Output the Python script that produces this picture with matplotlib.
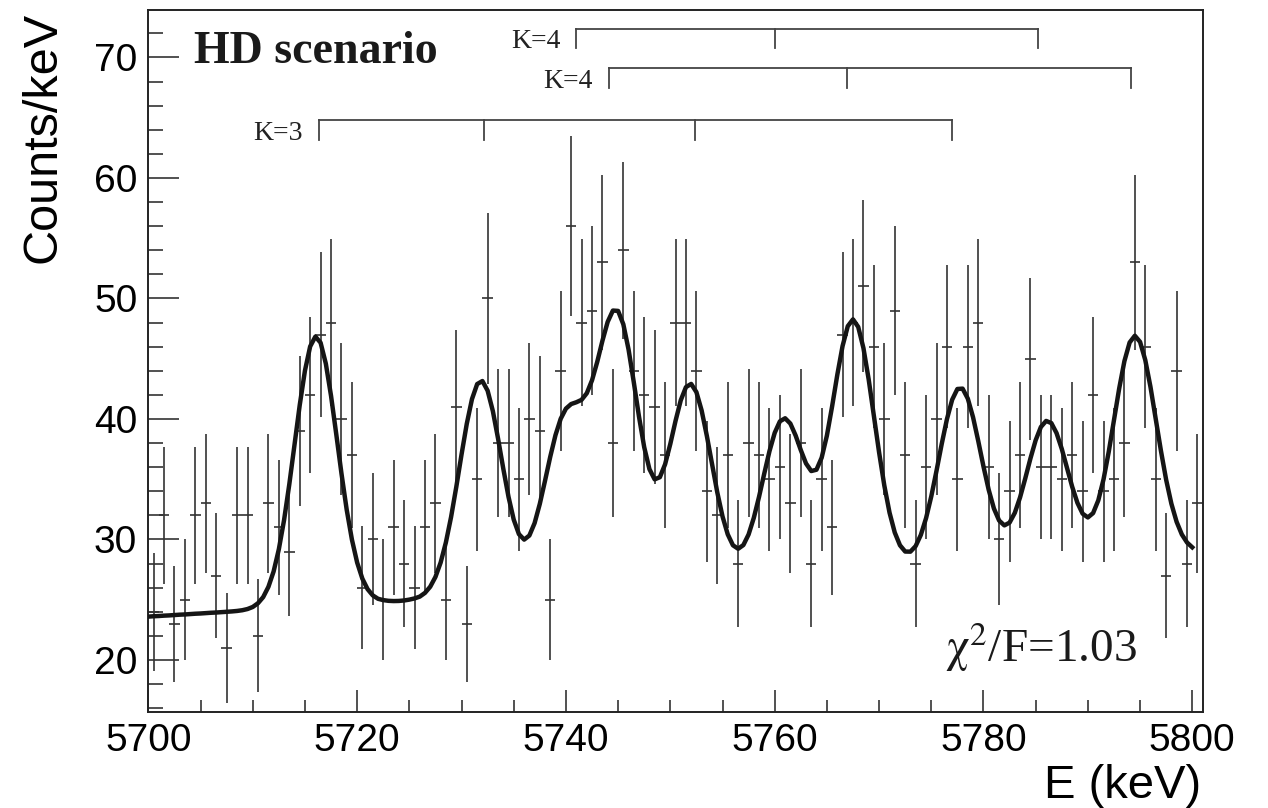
import numpy as np
import matplotlib
matplotlib.use("Agg")
import matplotlib.pyplot as plt
from matplotlib.ticker import MultipleLocator

plt.rcParams['font.family'] = ['Liberation Sans', 'DejaVu Sans']
plt.rcParams['mathtext.fontset'] = 'stix'

# histogram: 1 keV bins, 5700 .. 5801 keV
bin_lo = 5700.0
bin_width = 1.0
counts = [24, 32, 23, 25, 32, 33, 27, 21, 32, 32,
          22, 33, 31, 29, 39, 42, 47, 48, 40, 37,
          26, 30, 25, 31, 28, 26, 31, 33, 25, 41,
          23, 35, 50, 38, 38, 35, 40, 39, 25, 44,
          56, 48, 49, 53, 38, 54, 44, 42, 41, 37,
          48, 48, 44, 34, 32, 37, 28, 38, 37, 35,
          36, 33, 38, 28, 35, 31, 47, 48, 51, 46,
          40, 49, 37, 28, 36, 40, 46, 35, 46, 48,
          36, 30, 34, 37, 45, 36, 36, 35, 37, 34,
          42, 34, 35, 38, 53, 46, 35, 27, 44, 28,
          33]

# fitted curve, sampled every 0.5 keV from 5700 to 5800
fit_start, fit_step = 5700.0, 0.5
fit_y = [23.60, 23.63, 23.65, 23.68, 23.70, 23.73, 23.76, 23.78, 23.81, 23.84,
         23.86, 23.89, 23.92, 23.94, 23.97, 24.00, 24.03, 24.07, 24.13, 24.23,
         24.40, 24.71, 25.22, 26.07, 27.35, 29.19, 31.61, 34.57, 37.86, 41.15,
         44.01, 46.02, 46.84, 46.33, 44.60, 41.92, 38.74, 35.47, 32.47, 29.99,
         28.09, 26.75, 25.88, 25.36, 25.08, 24.97, 24.91, 24.89, 24.90, 24.94,
         25.01, 25.11, 25.26, 25.57, 26.08, 26.89, 28.09, 29.75, 31.87, 34.37,
         37.05, 39.59, 41.65, 42.90, 43.15, 42.35, 40.66, 38.37, 35.88, 33.54,
         31.65, 30.44, 29.99, 30.33, 31.36, 32.96, 34.88, 36.87, 38.66, 40.02,
         40.86, 41.24, 41.39, 41.59, 42.14, 43.21, 44.74, 46.50, 48.06, 49.00,
         48.97, 47.86, 45.77, 43.06, 40.20, 37.66, 35.84, 34.99, 35.17, 36.24,
         37.93, 39.84, 41.55, 42.65, 42.91, 42.23, 40.71, 38.60, 36.23, 33.91,
         31.92, 30.43, 29.52, 29.23, 29.54, 30.42, 31.80, 33.54, 35.47, 37.33,
         38.85, 39.81, 40.06, 39.62, 38.64, 37.42, 36.31, 35.68, 35.79, 36.79,
         38.62, 41.05, 43.68, 46.05, 47.70, 48.27, 47.64, 45.89, 43.30, 40.28,
         37.23, 34.48, 32.23, 30.58, 29.52, 29.00, 28.99, 29.45, 30.38, 31.77,
         33.58, 35.70, 37.93, 39.99, 41.60, 42.49, 42.52, 41.69, 40.15, 38.17,
         36.06, 34.12, 32.57, 31.57, 31.17, 31.40, 32.21, 33.48, 35.06, 36.73,
         38.24, 39.34, 39.84, 39.66, 38.83, 37.52, 35.94, 34.37, 33.04, 32.14,
         31.83, 32.19, 33.25, 34.99, 37.28, 39.89, 42.53, 44.80, 46.35, 46.91,
         46.40, 44.89, 42.65, 40.02, 37.36, 34.95, 32.97, 31.47, 30.42, 29.75,
         29.35]

# K band markers (keV)
k3_lines = [5716.3, 5732.2, 5752.4, 5777.0]
k4a_lines = [5741.0, 5760.0, 5785.2]
k4b_lines = [5744.1, 5766.9, 5794.1]

fig = plt.figure(figsize=(12.68, 8.08), dpi=100)
ax = fig.add_axes([0.1170, 0.1192, 0.8315, 0.8684])

centers = bin_lo + bin_width * (np.arange(len(counts)) + 0.5)
ax.errorbar(centers, counts, yerr=np.sqrt(counts), xerr=bin_width / 2, fmt='none',
            ecolor='#333333', elinewidth=1.2, capsize=0, zorder=2)

fit_e = fit_start + fit_step * np.arange(len(fit_y))
ax.plot(fit_e, fit_y, color='#151515', lw=3.2, zorder=3, solid_joinstyle='round')

# brackets
brackets = [(k3_lines, 64.8, 63.15, 'K=3'),
            (k4a_lines, 72.35, 70.8, 'K=4'),
            (k4b_lines, 69.1, 67.5, 'K=4')]
for pos, ytop, ybot, lab in brackets:
    ax.plot([pos[0], pos[-1]], [ytop, ytop], color='#444444', lw=1.3)
    for x in pos:
        ax.plot([x, x], [ytop, ybot], color='#444444', lw=1.3)
    ax.text(pos[0] - 1.5, ybot, lab, ha='right', va='baseline',
            family='Liberation Serif', fontsize=20, color='#222222')

ax.text(5704.4, 69.55, 'HD scenario', family='Liberation Serif', weight='bold',
        fontsize=33, ha='left', va='baseline', color='#1a1a1a')
ax.text(5776.3, 19.85, r'$\mathrm{\chi}^{2}$/F=1.03', family='Liberation Serif',
        fontsize=34, ha='left', va='baseline', color='#1a1a1a')

ax.set_xlim(5700, 5801)
ax.set_ylim(15.71, 73.94)
ax.xaxis.set_major_locator(MultipleLocator(20))
ax.xaxis.set_minor_locator(MultipleLocator(5))
ax.yaxis.set_major_locator(MultipleLocator(10))
ax.yaxis.set_minor_locator(MultipleLocator(2))
ax.tick_params(axis='both', which='both', direction='in', top=False, right=False,
               labelsize=28, pad=8, width=1.1, color='#222222')
ax.tick_params(axis='x', which='major', length=16)
ax.tick_params(axis='x', which='minor', length=8.5)
ax.tick_params(axis='y', which='major', length=22)
ax.tick_params(axis='y', which='minor', length=11)
for s in ax.spines.values():
    s.set_linewidth(1.4)
    s.set_color('#222222')

fig.text(1201 / 1268, (808 - 798) / 808, 'E (keV)', ha='right', va='baseline', fontsize=34)
fig.text(43 / 1268, (808 - 12) / 808, 'Counts/keV', rotation=90, ha='center', va='top', fontsize=35)

fig.savefig('out.png', dpi=100)
